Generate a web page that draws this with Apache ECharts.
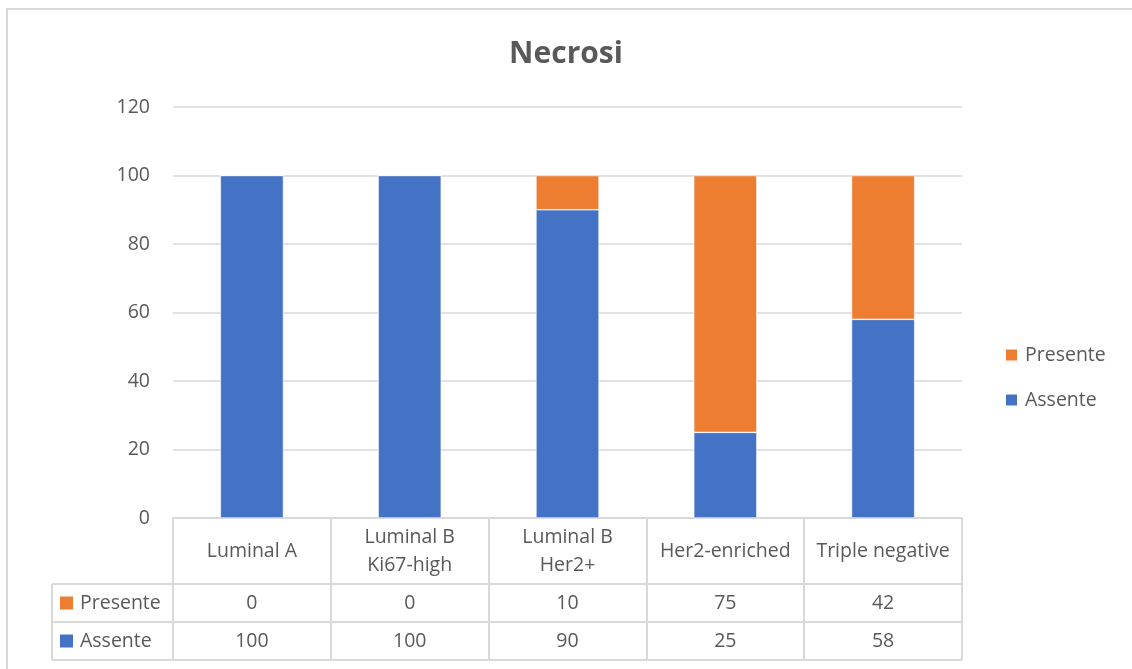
<!DOCTYPE html>
<html>
<head>
<meta charset="utf-8">
<title>Necrosi</title>
<script src="https://cdn.jsdelivr.net/npm/echarts@6/dist/echarts.min.js"></script>
<style>
  html, body { margin: 0; padding: 0; background: #fff; }
  #chart { width: 1132px; height: 669px; }
</style>
</head>
<body>
<div id="chart"></div>
<script>
// Subtypes and percentage of cases with / without necrosis
const categories = ['Luminal A', 'Luminal B\nKi67-high', 'Luminal B\nHer2+', 'Her2-enriched', 'Triple negative'];
const presente = [0, 0, 10, 75, 42];
const assente = [100, 100, 90, 25, 58];
const yTicks = { min: 0, max: 120, step: 20 };

const TEXT = '#595959';
const LINE = '#d9d9d9';
const BLUE = '#4472C4';
const ORANGE = '#ED7D31';
const FONT = '"Open Sans", "Noto Sans", sans-serif';
const FS = 19.5;

const chart = echarts.init(document.getElementById('chart'), null, { renderer: 'canvas' });

const gridLeft = 173, gridRight = 170, gridTop = 107, gridBottom = 151;
const headerH = 66, rowH = 38;

// Value rows of the data table, drawn as extra category axes under the plot
function rowAxis(values, offset) {
  return {
    type: 'category',
    data: categories,
    position: 'bottom',
    offset: offset,
    axisLine: { show: false },
    axisTick: { show: false },
    axisLabel: {
      color: TEXT, fontSize: FS, fontFamily: FONT, margin: 0,
      verticalAlign: 'middle',
      formatter: (v, i) => String(values[i])
    }
  };
}

const option = {
  backgroundColor: '#fff',
  animation: false,
  title: {
    text: 'Necrosi',
    left: 'center',
    top: 34,
    textStyle: { color: TEXT, fontSize: 30, fontWeight: 'bold', fontFamily: FONT }
  },
  legend: {
    orient: 'vertical',
    left: 1004,
    top: 345,
    padding: 0,
    itemWidth: 13,
    itemHeight: 13,
    itemGap: 25,
    icon: 'rect',
    data: ['Presente', 'Assente'],
    textStyle: { color: TEXT, fontSize: FS, fontFamily: FONT, padding: [0, 0, 0, 2] }
  },
  grid: { left: gridLeft, right: gridRight, top: gridTop, bottom: gridBottom },
  xAxis: [
    {
      type: 'category',
      data: categories,
      axisLine: { show: true, lineStyle: { color: LINE, width: 2 } },
      axisTick: { show: true, length: headerH + 2 * rowH, lineStyle: { color: LINE, width: 2 } },
      axisLabel: {
        color: TEXT, fontSize: FS, fontFamily: FONT, lineHeight: 28,
        margin: headerH / 2, verticalAlign: 'middle',
        interval: 0
      }
    },
    rowAxis(presente, headerH + rowH / 2),
    rowAxis(assente, headerH + rowH + rowH / 2)
  ],
  yAxis: {
    type: 'value',
    min: yTicks.min,
    max: yTicks.max,
    interval: yTicks.step,
    axisLine: { show: false },
    axisTick: { show: false },
    splitLine: { lineStyle: { color: LINE, width: 1.5 } },
    axisLabel: { color: TEXT, fontSize: FS, fontFamily: FONT, margin: 23 }
  },
  series: [
    {
      name: 'Assente', type: 'bar', stack: 'tot', data: assente,
      barWidth: '40%', itemStyle: { color: BLUE, borderColor: '#ffffff', borderWidth: 0.6 }
    },
    {
      name: 'Presente', type: 'bar', stack: 'tot', data: presente,
      barWidth: '40%', itemStyle: { color: ORANGE, borderColor: '#ffffff', borderWidth: 0.6 }
    }
  ]
};

chart.setOption(option);

// Table frame: horizontal rules, left header column and series keys
function drawFrame() {
  const plotRight = 1132 - gridRight;
  const yBase = chart.convertToPixel({ yAxisIndex: 0 }, 0);
  const tableLeft = 52;
  const r1 = yBase + headerH, r2 = r1 + rowH, r3 = r2 + rowH;
  const ls = { stroke: LINE, lineWidth: 2 };
  const els = [
    // outer chart border
    { type: 'polyline', shape: { points: [[7, 669], [7, 9], [1132, 9]] }, style: { stroke: LINE, lineWidth: 2, fill: null }, silent: true },
    { type: 'line', shape: { x1: tableLeft, y1: r1, x2: plotRight, y2: r1 }, style: ls, silent: true },
    { type: 'line', shape: { x1: tableLeft, y1: r2, x2: plotRight, y2: r2 }, style: ls, silent: true },
    { type: 'line', shape: { x1: tableLeft, y1: r3, x2: plotRight, y2: r3 }, style: ls, silent: true },
    { type: 'line', shape: { x1: tableLeft, y1: r1, x2: tableLeft, y2: r3 }, style: ls, silent: true },
    { type: 'rect', shape: { x: 60, y: r1 + rowH / 2 - 6.5, width: 13, height: 13 }, style: { fill: ORANGE }, silent: true },
    { type: 'rect', shape: { x: 60, y: r2 + rowH / 2 - 6.5, width: 13, height: 13 }, style: { fill: BLUE }, silent: true },
    { type: 'text', x: 80, y: r1 + rowH / 2, style: { text: 'Presente', fill: TEXT, font: FS + 'px ' + FONT, verticalAlign: 'middle' }, silent: true },
    { type: 'text', x: 80, y: r2 + rowH / 2, style: { text: 'Assente', fill: TEXT, font: FS + 'px ' + FONT, verticalAlign: 'middle' }, silent: true }
  ];
  chart.setOption({ graphic: { elements: els } });
}
drawFrame();
</script>
</body>
</html>
